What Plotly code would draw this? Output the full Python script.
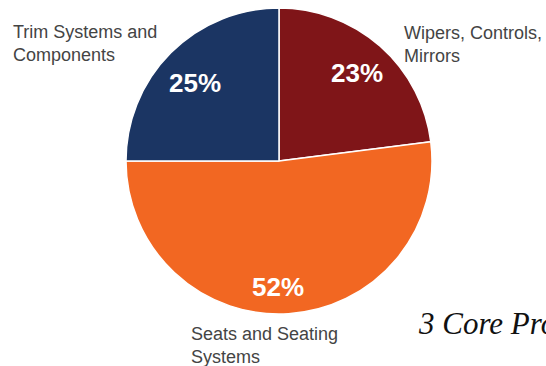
import plotly.graph_objects as go

# Share of sales by product group
segments = ["Wipers, Controls,<br>Mirrors", "Seats and Seating<br>Systems", "Trim Systems and<br>Components"]
shares = [23, 52, 25]
colors = ["#7f1518", "#f26722", "#1b3563"]

W, H = 546, 366
cx, cy, r = 279, 161, 153  # pie centre and radius in pixels

fig = go.Figure(go.Pie(
    labels=segments,
    values=shares,
    sort=False,
    direction="clockwise",
    rotation=0,
    marker=dict(colors=colors, line=dict(color="white", width=1.5)),
    textinfo="none",
    hoverinfo="label+percent",
    showlegend=False,
    domain=dict(x=[(cx - r) / W, (cx + r) / W], y=[1 - (cy + r) / H, 1 - (cy - r) / H]),
))

def px(x, y):
    return dict(x=x / W, y=1 - y / H, xref="paper", yref="paper")

# Percentage labels inside the slices
pct_pos = [(357, 73), (278, 287), (195, 83)]
for v, (x, y) in zip(shares, pct_pos):
    fig.add_annotation(**px(x, y), text=f"<b>{v}%</b>", showarrow=False,
                       font=dict(family="Liberation Sans, Arial", size=26, color="white"),
                       xanchor="center", yanchor="middle")

# Category names outside the pie
name_pos = [(402, 44), (189, 345), (11, 43)]
for name, (x, y) in zip(segments, name_pos):
    fig.add_annotation(**px(x, y), text=name, showarrow=False, align="left",
                       font=dict(family="Liberation Sans, Arial", size=18, color="#444444"),
                       xanchor="left", yanchor="middle")

fig.add_annotation(**px(416, 323), text="<i>3 Core Products</i>", showarrow=False,
                   font=dict(family="Liberation Serif, Times New Roman", size=31, color="#111111"),
                   xanchor="left", yanchor="middle")

fig.update_layout(width=W, height=H, margin=dict(l=0, r=0, t=0, b=0),
                  paper_bgcolor="white", plot_bgcolor="white")

fig.write_html("out.html")
